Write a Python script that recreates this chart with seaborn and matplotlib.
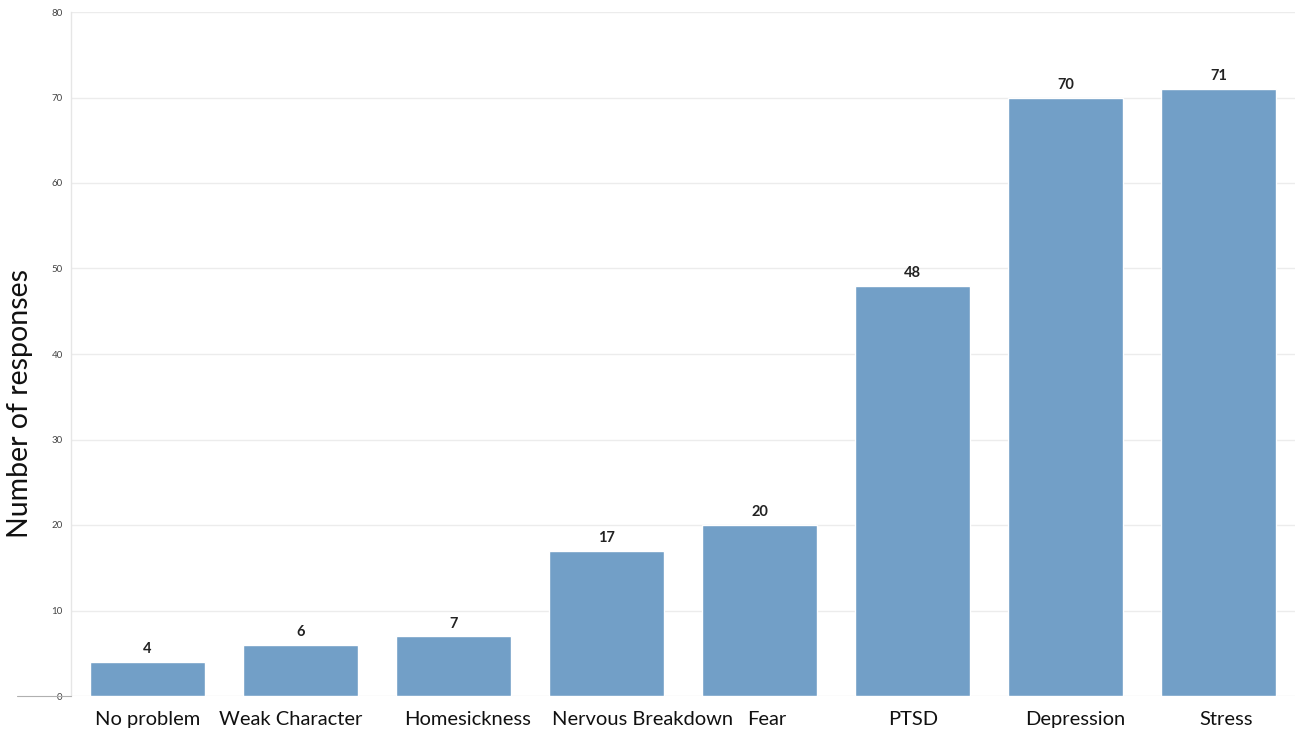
import matplotlib
matplotlib.use("Agg")
import matplotlib.pyplot as plt
import matplotlib.transforms as mtransforms
from matplotlib.lines import Line2D
import seaborn as sns
import pandas as pd

categories = ["No problem", "Weak Character", "Homesickness", "Nervous Breakdown",
              "Fear", "PTSD", "Depression", "Stress"]
responses = [4, 6, 7, 17, 20, 48, 70, 71]
y_ticks = [0, 10, 20, 30, 40, 50, 60, 70, 80]
label_shift_px = [0, -10, 14, 36, 7, 1, 10, 8]

sns.set_theme(style="white")
plt.rcParams['font.family'] = ['Lato', 'DejaVu Sans']

df = pd.DataFrame({"category": categories, "responses": responses})

fig = plt.figure(figsize=(12.95, 7.33), dpi=100)
ax = fig.add_axes([71/1295, 1 - 696/733, (1295 - 71)/1295, (696 - 12)/733])

sns.barplot(data=df, x="category", y="responses", color="#729fc7", width=0.75,
            saturation=1, ax=ax, zorder=3)

ax.set_ylim(0, 80)
ax.set_xlim(-0.5, 7.5)
ax.set_yticks(y_ticks)
ax.set_yticklabels([str(t) for t in y_ticks], fontsize=7, color="#444444")
ax.yaxis.grid(True, color="#ececec", linewidth=1, zorder=0)
ax.set_axisbelow(True)
ax.tick_params(axis="y", length=0, pad=6)
ax.tick_params(axis="x", length=0, pad=11, labelsize=14.5, colors="#111111")
for lab, dx in zip(ax.get_xticklabels(), label_shift_px):
    lab.set_transform(lab.get_transform() +
                      mtransforms.ScaledTranslation(dx / 100, 0, fig.dpi_scale_trans))
ax.set_xlabel("")
ax.set_ylabel("Number of responses", fontsize=20.5, color="#111111")
ax.yaxis.set_label_coords(-0.031, 0.428)

for s in ["top", "right", "bottom"]:
    ax.spines[s].set_visible(False)
ax.spines["left"].set_color("#e6e6e6")
ax.spines["left"].set_linewidth(1)

fig.add_artist(Line2D([17/1295, 71/1295], [1 - 696/733, 1 - 696/733],
                      color="#b0b0b0", linewidth=0.8, transform=fig.transFigure))

for container in ax.containers:
    ax.bar_label(container, fmt="%d", padding=4, fontsize=10.5, fontweight="bold",
                 color="#222222")

fig.savefig("out.png", dpi=100)
